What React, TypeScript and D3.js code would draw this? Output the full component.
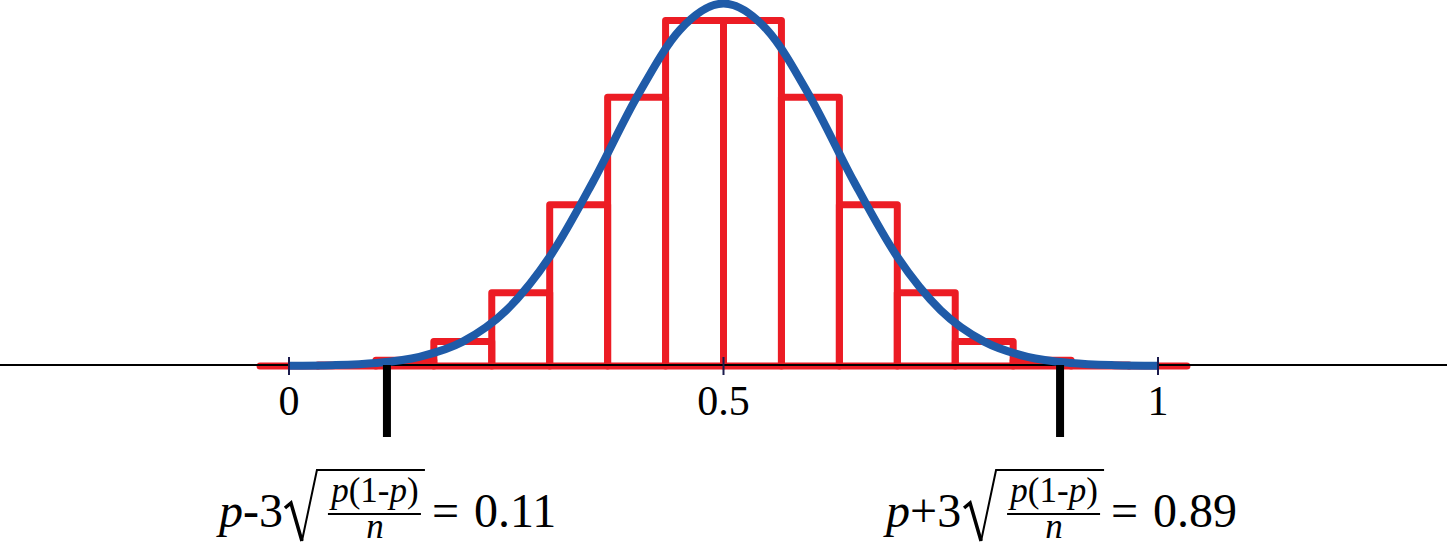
import React from "react";
import * as d3 from "d3";

const W = 1447;
const H = 546;

// Binomial distribution of sample proportion, n = 15, p = 0.5
const n = 15;
const p = 0.5;
const successes = [0, 1, 2, 3, 4, 5, 6, 7, 8, 9, 10, 11, 12, 13, 14, 15];
const barProbs = [
  0.00003, 0.0005, 0.0032, 0.0139, 0.0417, 0.0916, 0.1527, 0.1964,
  0.1964, 0.1527, 0.0916, 0.0417, 0.0139, 0.0032, 0.0005, 0.00003,
];

// Normal approximation curve (read at steps of 0.05)
const curveX = [
  0, 0.05, 0.1, 0.15, 0.2, 0.25, 0.3, 0.35, 0.4, 0.45, 0.5,
  0.55, 0.6, 0.65, 0.7, 0.75, 0.8, 0.85, 0.9, 0.95, 1,
];
const curveY = [
  0.000114, 0.000474, 0.0017, 0.00522, 0.01385, 0.03159, 0.06205, 0.10489, 0.15262, 0.19113, 0.206,
  0.19113, 0.15262, 0.10489, 0.06205, 0.03159, 0.01385, 0.00522, 0.0017, 0.000474, 0.000114,
];

const tickValues = [0, 0.5, 1];
const tickLabels = ["0", "0.5", "1"];

const markerValues = [0.1127, 0.8873];
const markerSigns = ["-", "+"];
const markerLabels = ["0.11", "0.89"];

const RED = "#ec1c24";
const BLUE = "#1f5ba8";
const FONT = "Liberation Serif";

function MathLabel({ cx, sign, value }: { cx: number; sign: string; value: string }) {
  const dx = sign === "+" ? 12 : 0;
  const x0 = cx - 168 - dx / 2;
  const base = 527;
  const r = x0 + dx;
  return (
    <g fill="#000">
      <text x={x0} y={base} fontSize={48} fontFamily={FONT}>
        <tspan fontStyle="italic" fontFamily={FONT}>p</tspan>
        <tspan fontFamily={FONT}>{sign}3</tspan>
      </text>
      <path
        d={`M${r + 66},508 L${r + 72},503 L${r + 83},541`}
        fill="none"
        stroke="#000"
        strokeWidth={3.5}
        strokeLinejoin="miter"
      />
      <path
        d={`M${r + 83},541 L${r + 98},470 L${r + 206},470`}
        fill="none"
        stroke="#000"
        strokeWidth={2}
        strokeLinejoin="miter"
      />
      <text x={r + 156} y={502} fontSize={35} textAnchor="middle" fontFamily={FONT}>
        <tspan fontStyle="italic" fontFamily={FONT}>p</tspan>
        <tspan fontFamily={FONT}>(1-</tspan>
        <tspan fontStyle="italic" fontFamily={FONT}>p</tspan>
        <tspan fontFamily={FONT}>)</tspan>
      </text>
      <line x1={r + 109} x2={r + 202} y1={514} y2={514} stroke="#000" strokeWidth={2} />
      <text x={r + 156} y={538} fontSize={35} textAnchor="middle" fontStyle="italic" fontFamily={FONT}>
        n
      </text>
      <text x={r + 213} y={base} fontSize={48} fontFamily={FONT}>
        =
      </text>
      <text x={r + 255} y={base} fontSize={48} fontFamily={FONT}>
        {value}
      </text>
    </g>
  );
}

export default function App() {
  const x = d3.scaleLinear().domain([0, 1]).range([289, 1158]);
  const y = d3.scaleLinear().domain([0, 0.19638]).range([366, 20.5]);
  const half = 1 / (2 * n);

  const curvePts: [number, number][] = curveX.map((v, i) => [v, curveY[i]]);
  const line = d3
    .line<[number, number]>()
    .x((d) => x(d[0]))
    .y((d) => y(d[1]))
    .curve(d3.curveMonotoneX);

  const axisY = y(0) - 1;

  return (
    <svg
      width={W}
      height={H}
      style={{ position: "absolute", left: 0, top: 0, background: "#fff" }}
    >
      <rect x={0} y={0} width={W} height={H} fill="#fff" />
      {successes.map((k, i) => {
        const c = k / n;
        const l = x(c - half);
        const r = x(c + half);
        const t = y(barProbs[i]);
        const b = y(0);
        return (
          <rect
            key={k}
            x={l}
            y={t}
            width={r - l}
            height={Math.max(b - t, 0.01)}
            fill="none"
            stroke={RED}
            strokeWidth={7}
            strokeLinejoin="round"
          />
        );
      })}
      <line x1={0} x2={W} y1={axisY} y2={axisY} stroke="#000" strokeWidth={2} />
      <path d={line(curvePts) || ""} fill="none" stroke={BLUE} strokeWidth={8} strokeLinecap="butt" />
      {markerValues.map((v, i) => (
        <rect key={i} x={x(v) - 4} y={axisY} width={8} height={72} fill="#000" />
      ))}
      {tickValues.map((t, i) => (
        <g key={i}>
          <line x1={x(t)} x2={x(t)} y1={357} y2={375} stroke="#1b1b4d" strokeWidth={2} />
          <text
            x={x(t)}
            y={415}
            fontSize={42}
            fontFamily={FONT}
            textAnchor="middle"
            fill="#000"
          >
            {tickLabels[i]}
          </text>
        </g>
      ))}
      {markerValues.map((v, i) => (
        <MathLabel key={i} cx={x(v)} sign={markerSigns[i]} value={markerLabels[i]} />
      ))}
    </svg>
  );
}
